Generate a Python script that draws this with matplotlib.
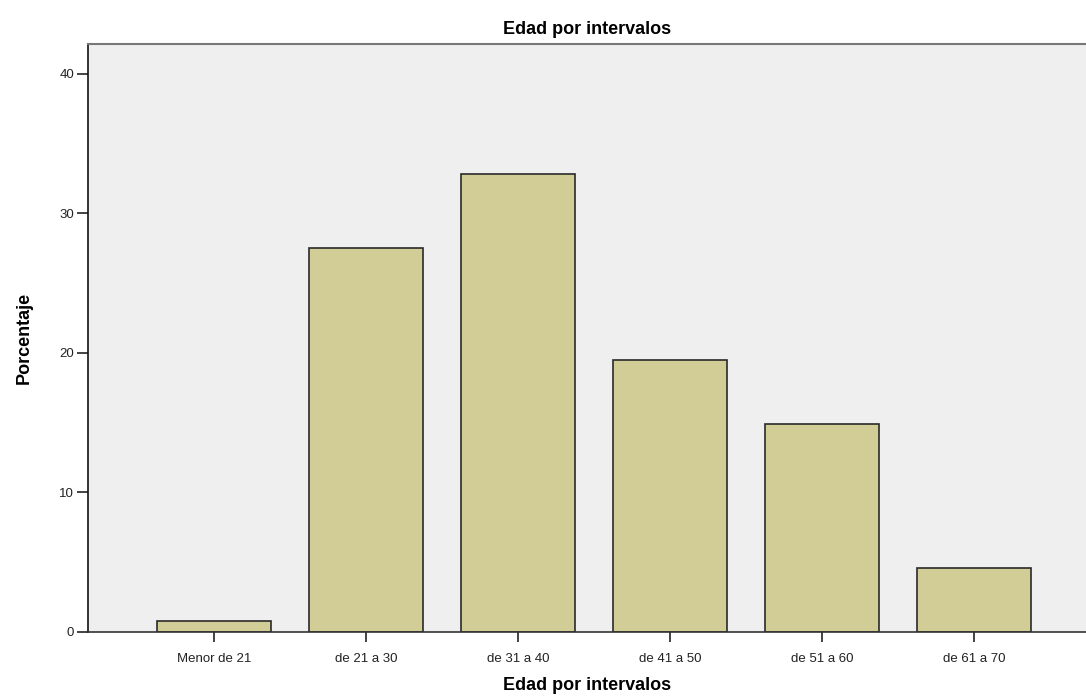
import matplotlib
matplotlib.use("Agg")
import matplotlib.pyplot as plt

categorias = ["Menor de 21", "de 21 a 30", "de 31 a 40", "de 41 a 50", "de 51 a 60", "de 61 a 70"]
porcentajes = [0.8, 27.5, 32.8, 19.5, 14.9, 4.6]
yticks = [0, 10, 20, 30, 40]

plt.rcParams["font.family"] = ["Liberation Sans", "DejaVu Sans"]

fig = plt.figure(figsize=(10.86, 6.98), dpi=100)
ax = fig.add_axes([0.081, 0.0946, 0.919, 0.8424])
ax.set_facecolor("#efefef")

pos = list(range(len(categorias)))
ax.bar(pos, porcentajes, width=0.756, color="#d2cd96", edgecolor="#2a2a2a", linewidth=1.2)

ax.set_xlim(-0.829, 5.737)
ax.set_ylim(0, 42.15)
ax.set_xticks(pos)
ax.set_xticklabels(categorias, fontsize=9.5)
ax.set_yticks(yticks)
ax.set_yticklabels([str(v) for v in yticks], fontsize=9.5)
ax.tick_params(axis="y", length=8, width=1.2, colors="#222222", pad=2)
ax.tick_params(axis="x", length=7, width=1.2, colors="#222222", pad=8)

ax.spines["left"].set_color("#111111")
ax.spines["left"].set_linewidth(1.2)
ax.spines["bottom"].set_color("#333333")
ax.spines["bottom"].set_linewidth(1.2)
ax.spines["top"].set_color("#777777")
ax.spines["top"].set_linewidth(1.5)
ax.spines["right"].set_visible(False)

ax.set_title("Edad por intervalos", fontsize=13, fontweight="bold", pad=7)
ax.set_xlabel("Edad por intervalos", fontsize=13, fontweight="bold", labelpad=9)
ax.set_ylabel("Porcentaje", fontsize=13, fontweight="bold", labelpad=19)

fig.savefig("out.png", dpi=100)
